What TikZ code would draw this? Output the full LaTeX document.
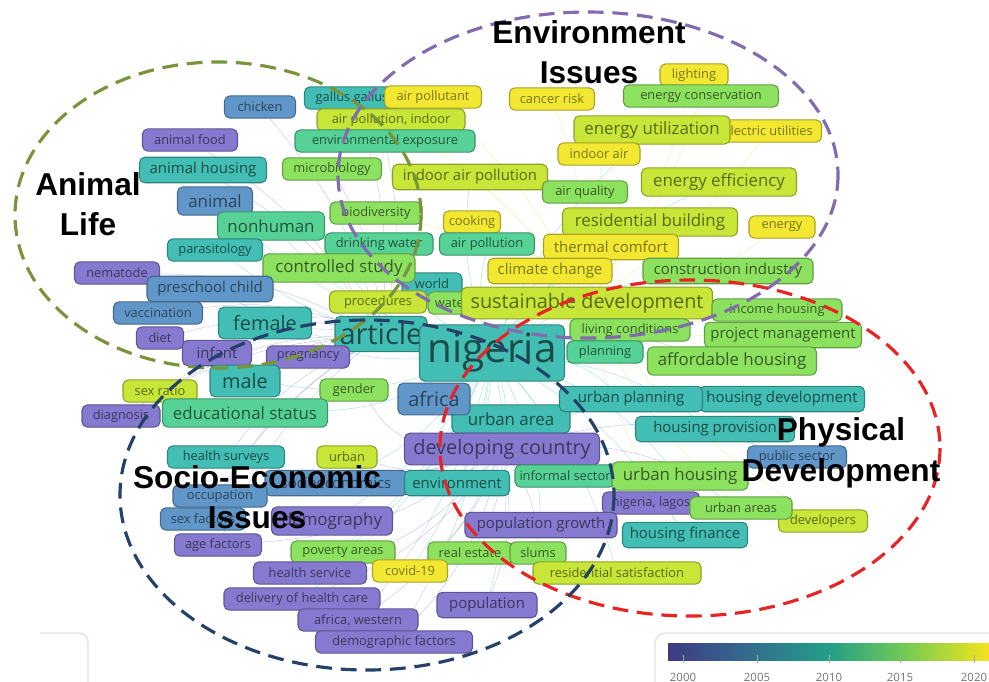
\documentclass[tikz,border=0pt]{standalone}
\usepackage{fontspec}
\setmainfont{Open Sans}
\newfontfamily\kwfont{Open Sans}
\newfontfamily\titlefont{Liberation Sans}
\usepackage{tikz}

\definecolor{colP}{RGB}{134,122,208}
\definecolor{colB}{RGB}{96,150,200}
\definecolor{colT}{RGB}{66,190,180}
\definecolor{colG}{RGB}{86,210,150}
\definecolor{colL}{RGB}{140,225,95}
\definecolor{colY}{RGB}{200,230,55}
\definecolor{colW}{RGB}{242,232,50}
\definecolor{ringOl}{RGB}{122,148,60}
\definecolor{ringPu}{RGB}{128,108,175}
\definecolor{ringRe}{RGB}{232,35,35}
\definecolor{ringNa}{RGB}{35,65,105}
\definecolor{bar0}{RGB}{62,58,130}
\definecolor{bar1}{RGB}{52,108,142}
\definecolor{bar2}{RGB}{34,158,136}
\definecolor{bar3}{RGB}{120,205,80}
\definecolor{bar4}{RGB}{245,228,30}

\pgfdeclarelayer{background}
\pgfsetlayers{background,main}
\pgfdeclarehorizontalshading{viridisbar}{100bp}{color(0bp)=(bar0); color(25bp)=(bar0); color(37.5bp)=(bar1); color(50bp)=(bar2); color(62.5bp)=(bar3); color(75bp)=(bar4); color(100bp)=(bar4)}

\tikzstyle{kw} = [rectangle, rounded corners=3pt, line width=0.6pt, inner xsep=2pt, inner ysep=0pt, text centered]
\tikzstyle{kwP} = [kw, fill=colP, draw=colP!70!black, text=colP!45!black]
\tikzstyle{kwB} = [kw, fill=colB, draw=colB!70!black, text=colB!45!black]
\tikzstyle{kwT} = [kw, fill=colT, draw=colT!70!black, text=colT!40!black]
\tikzstyle{kwG} = [kw, fill=colG, draw=colG!70!black, text=colG!40!black]
\tikzstyle{kwL} = [kw, fill=colL, draw=colL!70!black, text=colL!40!black]
\tikzstyle{kwY} = [kw, fill=colY, draw=colY!70!black, text=colY!45!black]
\tikzstyle{kwW} = [kw, fill=colW, draw=colW!70!black, text=colW!50!black]
\tikzstyle{s1} = [font=\kwfont\fontsize{7.3}{8}\selectfont, minimum height=12.6pt]
\tikzstyle{s2} = [font=\kwfont\fontsize{8.5}{9}\selectfont, minimum height=14.5pt]
\tikzstyle{s3} = [font=\kwfont\fontsize{9.6}{10}\selectfont, minimum height=16pt]
\tikzstyle{s4} = [font=\kwfont\fontsize{11.3}{12}\selectfont, minimum height=18pt]
\tikzstyle{s5} = [font=\kwfont\fontsize{16.5}{17}\selectfont, minimum height=20pt]
\tikzstyle{s6} = [font=\kwfont\fontsize{23}{24}\selectfont, minimum height=32pt]
\tikzstyle{ring} = [line width=1.8pt, dash pattern=on 9pt off 5pt]
\tikzstyle{cluster} = [font=\titlefont\bfseries\fontsize{18}{23}\selectfont, align=center, text=black]
\tikzstyle{link} = [line width=0.3pt, opacity=0.4]
\tikzstyle{legendframe} = [draw=black!12, line width=0.8pt]
\tikzstyle{yearlabel} = [font=\kwfont\fontsize{6.5}{7}\selectfont, text=black!55]
\tikzset{bw/.style={minimum width=#1*0.02cm}}

\begin{document}
\begin{tikzpicture}[x=0.02cm,y=-0.02cm]
\useasboundingbox (0,0) rectangle (989,681);

% keywords, top part
\node (gallus) at (352,98) [kwT, s1, bw=95] {gallus gallus};
\node (airpoll) at (433,97) [kwW, s1, bw=97] {air pollutant};
\node (chicken) at (260,107) [kwB, s1, bw=71] {chicken};
\node (apindoor) at (391,120) [kwY, s1, bw=148] {air pollution, indoor};
\node (envexp) at (385,141) [kwG, s1, bw=180] {environmental exposure};
\node (anfood) at (190,140) [kwP, s1, bw=95] {animal food};
\node (anhousing) at (203,170) [kwT, s2, bw=127] {animal housing};
\node (microbio) at (332,169) [kwL, s1, bw=99] {microbiology};
\node (iap) at (470,177) [kwY, s2, bw=155] {indoor air pollution};
\node (animal) at (215,201) [kwB, s3, bw=75] {animal};
\node (nonhuman) at (271,226) [kwG, s3, bw=107] {nonhuman};
\node (biodiv) at (376,213) [kwL, s1, bw=92] {biodiversity};
\node (cooking) at (472,222) [kwW, s1, bw=57] {cooking};
\node (lighting) at (694,75) [kwW, s1, bw=68] {lighting};
\node (cancer) at (552,99) [kwW, s1, bw=85] {cancer risk};
\node (encons) at (701,96) [kwL, s1, bw=155] {energy conservation};
\node (elecutil) at (768,131) [kwW, s1, bw=107] {electric utilities};
\node (enutil) at (652,130) [kwY, s3, bw=156] {energy utilization};
\node (indoorair) at (599,154) [kwW, s1, bw=82] {indoor air};
\node (airq) at (585,192) [kwL, s1, bw=85] {air quality};
\node (eneff) at (719,182) [kwY, s3, bw=155] {energy efficiency};
\node (resbuild) at (650,222) [kwY, s3, bw=175] {residential building};
\node (energy) at (782,227) [kwW, s1, bw=66] {energy};

% keywords, middle part
\node (parasit) at (215,250) [kwT, s1, bw=95] {parasitology};
\node (drinkw) at (379,244) [kwG, s1, bw=108] {drinking water};
\node (airpoln) at (487,244) [kwG, s1, bw=95] {air pollution};
\node (thermal) at (611,247) [kwW, s2, bw=135] {thermal comfort};
\node (nematode) at (117,273) [kwP, s1, bw=85] {nematode};
\node (world) at (432,284) [kwT, s1, bw=60] {world};
\node (cstudy) at (339,268) [kwL, s3, bw=152] {controlled study};
\node (climate) at (550,271) [kwW, s2, bw=124] {climate change};
\node (constr) at (728,271) [kwL, s2, bw=170] {construction industry};
\node (preschool) at (210,289) [kwB, s2, bw=126] {preschool child};
\node (proced) at (378,302) [kwY, s1, bw=97] {procedures};
\node (water) at (452,303) [kwL, s1, bw=48] {water};
\node (susdev) at (587,303) [kwY, s4, bw=251] {sustainable development};
\node (income) at (777,310) [kwL, s1, bw=130] {income housing};
\node (vacc) at (158,313) [kwB, s1, bw=89] {vaccination};
\node (living) at (630,330) [kwL, s1, bw=120] {living conditions};
\node (projman) at (783,335) [kwL, s2, bw=157] {project management};
\node (female) at (265,323) [kwT, s4, bw=93] {female};
\node (diet) at (160,338) [kwP, s1, bw=47] {diet};
\node (article) at (381,334) [kwT, s5, bw=92] {article};
\node (infant) at (217,353) [kwP, s2, bw=69] {infant};
\node (pregn) at (308,357) [kwP, s1, bw=83] {pregnancy};
\node (nigeria) at (492,353) [kwT, s6, bw=145] {nigeria};
\node (planning) at (605,352) [kwG, s1, bw=76] {planning};
\node (afford) at (732,361) [kwL, s3, bw=169] {affordable housing};
\node (sexratio) at (160,391) [kwY, s1, bw=74] {sex ratio};
\node (male) at (245,381) [kwT, s4, bw=70] {male};
\node (gender) at (354,390) [kwL, s1, bw=68] {gender};
\node (diagn) at (121,416) [kwP, s1, bw=78] {diagnosis};
\node (edu) at (245,413) [kwG, s3, bw=165] {educational status};
\node (urbanarea) at (511,419) [kwT, s3, bw=118] {urban area};
\node (africa) at (434,399) [kwB, s4, bw=72] {africa};
\node (housdev) at (782,399) [kwT, s2, bw=165] {housing development};
\node (urbplan) at (631,399) [kwT, s2, bw=143] {urban planning};
\node (housprov) at (715,429) [kwT, s2, bw=159] {housing provision};

% keywords, bottom part
\node (hsurv) at (226,457) [kwT, s1, bw=117] {health surveys};
\node (urban) at (347,457) [kwY, s1, bw=60] {urban};
\node (devc) at (502,449) [kwP, s4, bw=195] {developing country};
\node (pubsec) at (797,457) [kwB, s1, bw=99] {public sector};
\node (socio) at (336,483) [kwB, s2, bw=142] {socioeconomics};
\node (environ) at (457,483) [kwT, s2, bw=105] {environment};
\node (informal) at (565,476) [kwG, s1, bw=100] {informal sector};
\node (urbhous) at (680,476) [kwL, s3, bw=136] {urban housing};
\node (occup) at (220,496) [kwB, s1, bw=94] {occupation};
\node (lagos) at (651,503) [kwP, s1, bw=97] {nigeria, lagos};
\node (developers) at (823,521) [kwY, s1, bw=89] {developers};
\node (urbareas) at (741,508) [kwL, s1, bw=102] {urban areas};
\node (sexfac) at (203,519) [kwB, s1, bw=85] {sex factors};
\node (demog) at (332,521) [kwP, s3, bw=121] {demography};
\node (popgrowth) at (541,525) [kwP, s2, bw=152] {population growth};
\node (housfin) at (685,535) [kwT, s2, bw=125] {housing finance};
\node (agefac) at (218,545) [kwP, s1, bw=87] {age factors};
\node (poverty) at (343,552) [kwL, s1, bw=104] {poverty areas};
\node (realest) at (470,553) [kwL, s1, bw=84] {real estate};
\node (slums) at (538,553) [kwL, s1, bw=56] {slums};
\node (hservice) at (310,573) [kwP, s1, bw=113] {health service};
\node (covid) at (410,571) [kwW, s1, bw=75] {covid-19};
\node (ressat) at (617,573) [kwY, s1, bw=168] {residential satisfaction};
\node (delivery) at (302,599) [kwP, s1, bw=156] {delivery of health care};
\node (population) at (487,605) [kwP, s2, bw=100] {population};
\node (afwest) at (358,620) [kwP, s1, bw=120] {africa, western};
\node (demfac) at (394,642) [kwP, s1, bw=157] {demographic factors};

% faint co-occurrence links behind the labels
\begin{pgfonlayer}{background}
\foreach \b in {female,male,africa,devc,susdev,resbuild,eneff,urbhous,housfin,popgrowth,environ,demog,population,urbplan,afford,climate,thermal,iap,cstudy,nonhuman,animal,edu,hservice,poverty,ressat,constr,enutil,airpoln,drinkw,parasit,preschool,covid,demfac,delivery,afwest,socio,informal,housprov}
  \draw[link, colT] (nigeria) to[bend left=12] (\b);
\foreach \b in {infant,pregn,diet,vacc,hsurv,occup,agefac,sexfac,diagn,nematode,anhousing,chicken,gallus,envexp,microbio,anfood,male,female,sexratio}
  \draw[link, colP] (article) to[bend right=12] (\b);
\foreach \b in {population,hservice,realest,slums,urbareas,pubsec,housdev,demfac,afwest,delivery,hsurv,gender,urban,covid,agefac}
  \draw[link, colP] (devc) to[bend left=15] (\b);
\foreach \b in {encons,lighting,energy,cancer,indoorair,airq,elecutil,projman,income,living,planning,developers,urbareas,housfin,biodiv,cooking,airpoll,apindoor}
  \draw[link, colY] (susdev) to[bend right=10] (\b);
\end{pgfonlayer}

% cluster rings
\draw[ring, ringOl] (218,215) ellipse [x radius=203, y radius=153];
\draw[ring, ringPu] (588,175) ellipse [x radius=250, y radius=163];
\draw[ring, ringRe] (690,448) ellipse [x radius=250, y radius=168];
\draw[ring, ringNa] (367,495) ellipse [x radius=247, y radius=175];

% cluster titles
\node (tAnimal) at (88,204) [cluster] {Animal\\Life};
\node (tEnv) at (589,52) [cluster] {Environment\\Issues};
\node (tSocio) at (257,497) [cluster] {Socio-Economic\\Issues};
\node (tPhys) at (841,453) [cluster] {Physical\\Development};

% year legend
\draw[legendframe, rounded corners=5pt] (40,633) -- (88,633) -- (88,700);
\draw[legendframe, rounded corners=6pt] (1010,633) -- (655,633) -- (655,700);
\shade[shading=viridisbar] (668,643) rectangle (989,660);
\foreach \yr/\px in {2000/683,2005/757,2010/829,2015/900,2020/974} {
  \draw[black!35, line width=0.5pt] (\px,655) -- (\px,663);
  \node (y\yr) at (\px,677) [yearlabel] {\yr};
}
\end{tikzpicture}
\end{document}
